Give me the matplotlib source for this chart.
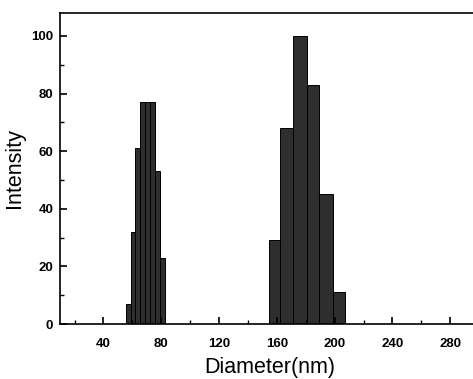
import numpy as np
import matplotlib.pyplot as plt
from matplotlib.ticker import MultipleLocator

# size distribution, two populations (bin edges in nm, intensity per bin)
edges1 = [55.7, 58.9, 62.1, 65.5, 69.0, 72.4, 75.9, 79.3, 82.6]
heights1 = [7, 32, 61, 77, 77, 77, 53, 23]
edges2 = [154.5, 162.0, 171.0, 180.7, 189.4, 198.6, 207.4]
heights2 = [29, 68, 100, 83, 45, 11]

plt.rcParams['font.family'] = ['Liberation Sans', 'DejaVu Sans']

fig = plt.figure(figsize=(4.73, 3.79), dpi=100)
ax = fig.add_axes([0.127, 0.145, 0.886, 0.821])

for edges, h in [(edges1, heights1), (edges2, heights2)]:
    e = np.array(edges)
    ax.bar(e[:-1], h, width=np.diff(e), align='edge',
           color='#2e2e2e', edgecolor='black', linewidth=0.7)

ax.set_xlim(10, 300)
ax.set_ylim(0, 108)
ax.xaxis.set_minor_locator(MultipleLocator(20))
ax.yaxis.set_major_locator(MultipleLocator(20))
ax.yaxis.set_minor_locator(MultipleLocator(10))
ax.set_xticks([40, 80, 120, 160, 200, 240, 280])
ax.tick_params(which='major', direction='in', length=5, width=1.2,
               labelsize=9.5)
ax.tick_params(axis='x', which='major', pad=10)
ax.tick_params(axis='y', which='major', pad=5)
ax.tick_params(which='minor', direction='in', length=3, width=1.0)
for lab in ax.get_xticklabels() + ax.get_yticklabels():
    lab.set_fontweight('bold')
for s in ax.spines.values():
    s.set_linewidth(1.2)

ax.set_xlabel('Diameter(nm)', fontsize=15.5, labelpad=5)
ax.set_ylabel('Intensity', fontsize=15.5, labelpad=4)

fig.savefig('out.png', dpi=100)
